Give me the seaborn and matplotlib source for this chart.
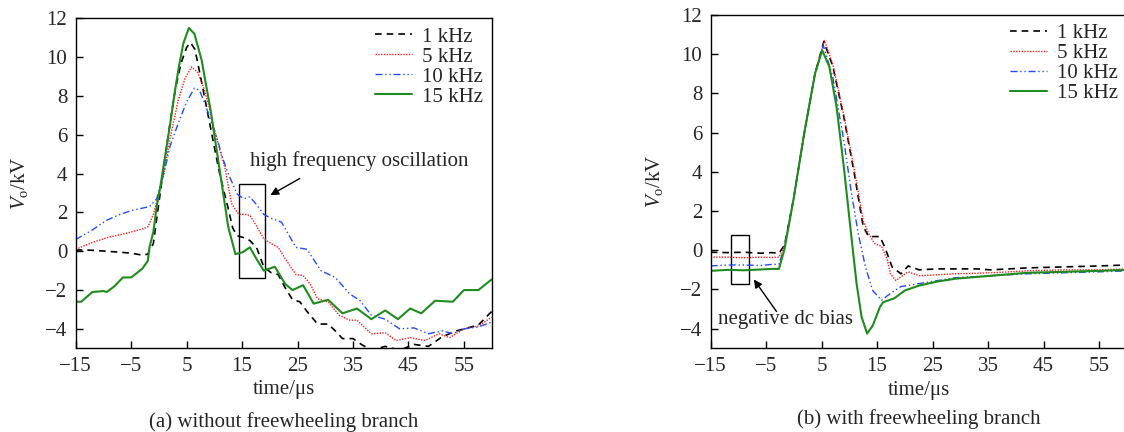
import numpy as np
import pandas as pd
import matplotlib
matplotlib.use("Agg")
import matplotlib.pyplot as plt
from matplotlib.patches import Rectangle
import seaborn as sns

# ---------------- data ----------------
labels = ["1 kHz", "5 kHz", "10 kHz", "15 kHz"]
colors = ["#000000", "#ff1a1a", "#1f4dff", "#1e8c1e"]

# (a) without freewheeling branch
a_t_1k = [-15, -12, -9.4, -7, -5, -3, -2, -1, 0, 1, 2, 3, 4, 5, 5.7, 6.5, 7.5, 8.6, 9.7, 10.8, 11.8, 12.5,
          13.3, 14.1, 15.3, 16.4, 17.6, 18.9, 20.2, 21.5, 22.8, 24.1, 25.4, 26.7, 28.6, 30.5, 31.8, 33.1, 35,
          36.5, 38.3, 40.8, 43.4, 46, 48.6, 51.1, 53.7, 57.6, 60]
a_v_1k = [0.07, 0.05, 0.0, -0.05, -0.1, -0.2, -0.15, 0.4, 2.5, 4.6, 6.6, 8.4, 9.7, 10.5, 10.75, 10.4, 9.0, 7.4,
          5.8, 4.2, 3.0, 2.2, 1.2, 0.8, 0.7, 0.55, 0.2, -0.8, -1.1, -1.2, -1.9, -2.5, -2.6, -3.1, -3.75, -3.75,
          -4.1, -4.5, -4.5, -4.8, -5.1, -4.9, -5.1, -4.8, -4.9, -4.4, -4.1, -3.8, -3.1]

a_t_5k = [-15, -12, -9.4, -7, -4.9, -3, -2, -1, 0, 0.9, 2, 3.5, 4.7, 5.9, 7, 8, 9, 9.9, 11, 11.9, 13.1, 14.4,
          15.5, 16.4, 17.6, 18.9, 20.2, 21.5, 22.8, 24.7, 26, 27.3, 28.6, 30.5, 32.5, 34.4, 35.7, 38.3, 40.8,
          42.8, 45.3, 47.9, 50.5, 52.4, 55, 57.6, 60]
a_v_5k = [0.1, 0.45, 0.7, 0.85, 1.0, 1.15, 1.25, 1.9, 3.0, 4.0, 5.8, 7.8, 8.9, 9.5, 9.2, 8.5, 7.5, 6.4, 5.2, 4.3,
          2.45, 1.9, 1.9, 1.85, 1.3, 0.65, 0.4, 0.2, -0.4, -1.2, -1.25, -1.7, -2.45, -2.6, -3.3, -3.55, -3.55,
          -4.25, -4.2, -4.6, -4.45, -4.6, -4.25, -4.45, -4.0, -3.85, -3.4]

a_t_10k = [-15, -12, -9.4, -7, -4.9, -1.7, -0.4, 0.9, 2, 3.5, 5, 6.4, 7.3, 8.3, 9.5, 10.6, 11.5, 12.5, 14.1,
           15.3, 16.4, 17.6, 18.9, 20.2, 22.1, 23.5, 24.7, 26.7, 29.2, 31.8, 34.4, 36.3, 38.3, 40.8, 43.4, 46,
           48.6, 51.1, 53, 55, 57.6, 60]
a_v_10k = [0.6, 1.1, 1.6, 1.9, 2.1, 2.3, 2.7, 4.0, 5.4, 6.6, 7.7, 8.4, 8.3, 7.6, 6.6, 5.7, 4.8, 4.0, 2.95, 2.7,
           2.8, 2.4, 1.9, 1.7, 1.5, 0.8, 0.2, 0.1, -1.0, -1.35, -2.2, -2.55, -3.3, -3.5, -4.0, -3.95, -4.25,
           -4.1, -4.25, -4.0, -3.9, -3.65]

a_t_15k = [-15, -14, -12, -10, -9.4, -8, -6.5, -5, -3, -2, -1.7, -1, -0.4, 0.3, 0.9, 2, 2.8, 3.6, 4.4, 5.4,
           6.4, 7.7, 9.3, 10.9, 12.5, 13.8, 15.1, 16.4, 17.6, 18.9, 20.9, 22.8, 24.1, 26, 27.9, 30.5, 33.1,
           35.7, 38.3, 40.8, 43.1, 45.3, 47.3, 49.8, 53, 55, 57.6, 60]
a_v_15k = [-2.6, -2.6, -2.1, -2.05, -2.1, -1.8, -1.35, -1.35, -0.9, -0.5, 0.2, 1.0, 2.3, 3.4, 4.5, 6.5, 8.1,
           9.5, 10.7, 11.5, 11.2, 9.85, 7.3, 4.3, 1.25, -0.15, -0.05, 0.2, -0.4, -1.0, -0.8, -1.7, -2.0, -1.75,
           -2.7, -2.5, -3.2, -2.95, -3.5, -3.05, -3.5, -2.95, -3.2, -2.55, -2.6, -2.0, -2.0, -1.45]

# (b) with freewheeling branch
b_t_1k = [-15, -12, -9, -6, -4, -2.7, -1.7, -0.1, 1.85, 3.8, 5.4, 7, 9, 10.9, 12.5, 13.5, 15.5, 16.4, 17.7,
          19.3, 20.6, 22.6, 25.8, 29.1, 33, 35.5, 42, 48.5, 55, 60]
b_v_1k = [-0.1, -0.12, -0.1, -0.15, -0.12, -0.15, 0.25, 2.55, 5.95, 9.0, 10.65, 9.4, 6.8, 3.9, 1.2, 0.7, 0.7,
          0.15, -0.85, -1.2, -0.8, -1.0, -0.95, -0.95, -0.95, -1.0, -0.9, -0.85, -0.8, -0.75]

b_t_5k = [-15, -12, -9, -6, -4, -2.7, -1.7, -0.1, 1.85, 3.8, 5.5, 7, 9, 10.9, 12.5, 13.5, 14.5, 15.8, 16.8,
          17.4, 18.4, 19.3, 20.6, 22.6, 29.1, 35.5, 42, 48.5, 55, 60]
b_v_5k = [-0.35, -0.35, -0.38, -0.35, -0.37, -0.35, 0.2, 2.55, 5.95, 9.0, 10.7, 9.5, 6.9, 4.1, 1.5, 0.85, 0.35,
          0.2, -0.45, -1.2, -1.55, -1.35, -1.1, -1.3, -1.2, -1.15, -1.05, -1.0, -1.0, -0.95]

b_t_10k = [-15, -12, -9, -6, -4, -2.7, -1.7, -0.1, 1.85, 3.8, 5.3, 7, 9, 10.3, 11.6, 12.9, 14.2, 15.8, 17.4,
           19.3, 22.6, 25.8, 29.1, 35.5, 42, 48.5, 55, 60]
b_v_10k = [-0.8, -0.75, -0.75, -0.78, -0.72, -0.72, 0.15, 2.55, 5.95, 9.0, 10.45, 8.85, 5.6, 3.05, 0.85, -0.85,
           -2.05, -2.55, -2.2, -1.85, -1.7, -1.55, -1.4, -1.3, -1.2, -1.15, -1.1, -1.05]

b_t_15k = [-15, -12, -9, -6, -4, -2.7, -1.7, -0.1, 1.85, 3.8, 5.1, 6.4, 7.7, 9, 10.3, 11.3, 12.2, 13.2, 14.2,
           15.5, 16.1, 18.1, 20, 22.6, 25.8, 29.1, 35.5, 42, 48.5, 55, 60]
b_v_15k = [-1.05, -1.0, -1.02, -0.98, -0.95, -0.95, 0.05, 2.55, 5.95, 9.0, 10.2, 9.35, 7.3, 4.25, 0.85, -1.7,
           -3.4, -4.25, -3.85, -2.9, -2.65, -2.45, -2.05, -1.8, -1.6, -1.45, -1.3, -1.15, -1.1, -1.05, -1.0]

x_ticks = [-15, -5, 5, 15, 25, 35, 45, 55]
y_ticks = [-4, -2, 0, 2, 4, 6, 8, 10, 12]
captions = ["(a) without freewheeling branch", "(b) with freewheeling branch"]
notes = ["high frequency oscillation", "negative dc bias"]

# ---------------- style ----------------
sns.set_style("ticks")
plt.rcParams["font.family"] = ["Liberation Serif", "DejaVu Serif"]
plt.rcParams["mathtext.fontset"] = "custom"
plt.rcParams["mathtext.rm"] = "Liberation Serif"
plt.rcParams["mathtext.it"] = "Liberation Serif:italic"
FS = 15

styles = [
    dict(linestyle=(0, (4, 3)), linewidth=1.2),
    dict(linestyle=(0, (1, 1)), linewidth=1.0),
    dict(linestyle=(0, (5, 2, 1, 2, 1, 2)), linewidth=1.0),
    dict(linestyle="-", linewidth=1.5),
]

fig = plt.figure(figsize=(11.24, 4.32), dpi=100)
W, H = 1124, 432
ax_a = fig.add_axes([75.7 / W, 1 - 348.3 / H, 416 / W, 330 / H])
ax_b = fig.add_axes([710.7 / W, 1 - 348.3 / H, 416 / W, 333.3 / H])

series_a = [(a_t_1k, a_v_1k), (a_t_5k, a_v_5k), (a_t_10k, a_v_10k), (a_t_15k, a_v_15k)]
series_b = [(b_t_1k, b_v_1k), (b_t_5k, b_v_5k), (b_t_10k, b_v_10k), (b_t_15k, b_v_15k)]

for ax, series in [(ax_a, series_a), (ax_b, series_b)]:
    for (t, v), lab, col, st in zip(series, labels, colors, styles):
        df = pd.DataFrame({"t": t, "v": v})
        sns.lineplot(data=df, x="t", y="v", ax=ax, color=col, label=lab, sort=False,
                     estimator=None, **st)
    ax.set_xlim(-15, 60)
    ax.set_ylim(-5, 12)
    ax.set_xticks(x_ticks)
    ax.set_yticks(y_ticks)
    ax.tick_params(direction="in", length=5, width=1, labelsize=FS, pad=6,
                   top=False, right=False, color="black")
    for s in ax.spines.values():
        s.set_linewidth(1.0)
        s.set_color("black")
    ax.set_xlabel("time/\u03bcs", fontsize=FS)
    ax.set_ylabel(r"$V_{\mathrm{o}}$/kV", fontsize=FS)
    ax.xaxis.label.set_va("center")
    ax.yaxis.label.set_va("center")
    ax.xaxis.set_label_coords(0.5, -0.126)
    ax.yaxis.set_label_coords(-0.135, 0.5)
    ax.legend(loc="upper right", frameon=False, fontsize=FS, handlelength=1.75,
              handletextpad=0.5, labelspacing=0.02, borderaxespad=0.0, borderpad=0.42)
    ax.set_facecolor("white")

ax_b.spines["right"].set_visible(False)

fig.text(283.7 / W, 1 - 421.7 / H, captions[0], ha="center", va="center", fontsize=FS)
fig.text(919 / W, 1 - 419 / H, captions[1], ha="center", va="center", fontsize=FS)

# annotations
ax_a.add_patch(Rectangle((14.43, -1.37), 19.06 - 14.43, 3.44 + 1.37, fill=False, ec="black", lw=1.0))
ax_a.text(16.36, 4.66, notes[0], fontsize=FS, ha="left", va="center")
ax_a.annotate("", xy=(20.1, 2.89), xytext=(25.4, 3.75),
              arrowprops=dict(arrowstyle="-|>", color="black", lw=1.0, mutation_scale=12,
                              shrinkA=0, shrinkB=0))

ax_b.add_patch(Rectangle((-11.37, -1.71), 3.24, 0.78 + 1.71, fill=False, ec="black", lw=1.0))
ax_b.text(-13.7, -3.52, notes[1], fontsize=FS, ha="left", va="center")
ax_b.annotate("", xy=(-7.22, -1.49), xytext=(-3.14, -3.12),
              arrowprops=dict(arrowstyle="-|>", color="black", lw=1.0, mutation_scale=12,
                              shrinkA=0, shrinkB=0))

fig.savefig("out.png", dpi=100, facecolor="white")
